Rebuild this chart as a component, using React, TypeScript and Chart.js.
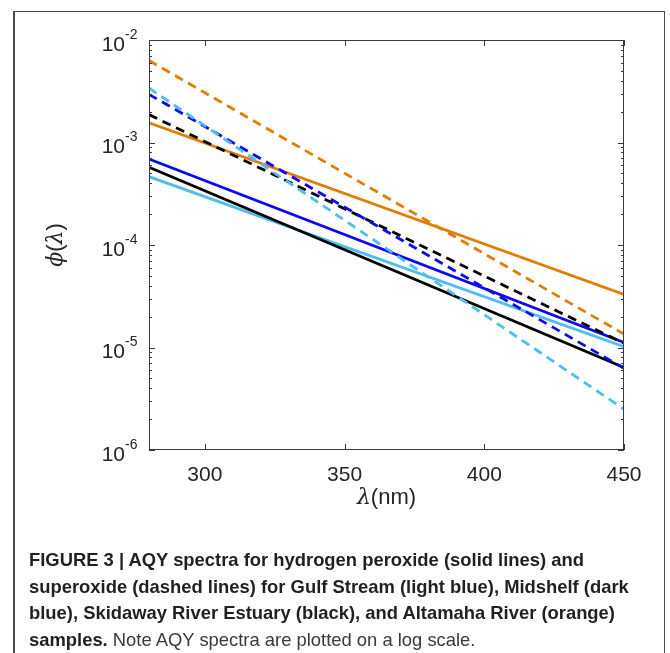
import React, { useEffect, useRef } from "react";
import { Chart, registerables } from "chart.js";
Chart.register(...registerables);

// ---- data ----
const wavelengths = [280, 450];
// hydrogen peroxide (solid)
const gulfStreamH2O2 = [4.64e-4, 1.02e-5];
const midshelfH2O2 = [6.9e-4, 1.12e-5];
const skidawayH2O2 = [5.73e-4, 6.37e-6];
const altamahaH2O2 = [1.56e-3, 3.29e-5];
// superoxide (dashed)
const gulfStreamO2 = [3.4e-3, 2.5e-6];
const midshelfO2 = [2.95e-3, 6.27e-6];
const skidawayO2 = [1.87e-3, 1.1e-5];
const altamahaO2 = [6.3e-3, 1.35e-5];

const xTicks = [300, 350, 400, 450];
const yTickExponents = [-2, -3, -4, -5, -6];

const LIGHT_BLUE = "#4DBEEE";
const DARK_BLUE = "#0B0BF2";
const BLACK = "#000000";
const ORANGE = "#E27D00";

const SANS = "'Liberation Sans', Arial, Helvetica, sans-serif";
const SERIF = "'DejaVu Serif', 'Liberation Serif', serif";
const AXIS_COLOR = "#3a3a3a";
const TEXT_COLOR = "#262626";

function pts(vals: number[]) {
  return wavelengths.map((x, i) => ({ x, y: vals[i] }));
}

function drawSegments(ctx: CanvasRenderingContext2D, segs: [string, string][], cx: number, cy: number) {
  let total = 0;
  const widths = segs.map(([t, f]) => {
    ctx.font = f;
    const w = ctx.measureText(t).width;
    total += w;
    return w;
  });
  let x = cx - total / 2;
  ctx.textAlign = "left";
  ctx.textBaseline = "middle";
  segs.forEach(([t, f], i) => {
    ctx.font = f;
    ctx.fillText(t, x, cy);
    x += widths[i];
  });
}

const axesPlugin = {
  id: "matlabAxes",
  afterDraw(chart: any) {
    const ctx: CanvasRenderingContext2D = chart.ctx;
    const { left, right, top, bottom } = chart.chartArea;
    const xs = chart.scales.x;
    const ys = chart.scales.y;
    ctx.save();
    ctx.strokeStyle = AXIS_COLOR;
    ctx.lineWidth = 1;
    ctx.strokeRect(left + 0.5, top + 0.5, right - left - 1, bottom - top - 1);

    ctx.beginPath();
    for (let e = -6; e <= -2; e++) {
      const yp = Math.round(ys.getPixelForValue(Math.pow(10, e))) + 0.5;
      ctx.moveTo(left, yp); ctx.lineTo(left + 6, yp);
      ctx.moveTo(right, yp); ctx.lineTo(right - 6, yp);
      if (e < -2) {
        for (let m = 2; m <= 9; m++) {
          const y2 = Math.round(ys.getPixelForValue(m * Math.pow(10, e))) + 0.5;
          ctx.moveTo(left, y2); ctx.lineTo(left + 3, y2);
          ctx.moveTo(right, y2); ctx.lineTo(right - 3, y2);
        }
      }
    }
    xTicks.forEach((v) => {
      const xp = Math.round(xs.getPixelForValue(v)) + 0.5;
      ctx.moveTo(xp, bottom); ctx.lineTo(xp, bottom - 6);
      ctx.moveTo(xp, top); ctx.lineTo(xp, top + 6);
    });
    ctx.stroke();

    ctx.fillStyle = TEXT_COLOR;
    ctx.font = `21px ${SANS}`;
    ctx.textAlign = "center";
    ctx.textBaseline = "middle";
    xTicks.forEach((v) => {
      ctx.fillText(String(v), xs.getPixelForValue(v), bottom + 25);
    });

    yTickExponents.forEach((e) => {
      const yp = ys.getPixelForValue(Math.pow(10, e));
      ctx.font = `21px ${SANS}`;
      ctx.textAlign = "right";
      ctx.textBaseline = "middle";
      ctx.fillText("10", left - 24, yp + 5);
      ctx.font = `14px ${SANS}`;
      ctx.textAlign = "left";
      ctx.fillText(String(e), left - 24, yp - 5);
    });

    const cx = (left + right) / 2;
    drawSegments(ctx, [["λ", `italic 22px ${SERIF}`], ["(nm)", `22px ${SANS}`]], cx, bottom + 48);
    ctx.save();
    ctx.translate(56, (top + bottom) / 2);
    ctx.rotate(-Math.PI / 2);
    drawSegments(
      ctx,
      [["ϕ", `italic 22px ${SERIF}`], ["(", `22px ${SANS}`], ["λ", `italic 22px ${SERIF}`], [")", `22px ${SANS}`]],
      0,
      0
    );
    ctx.restore();
    ctx.restore();
  },
};

export default function App() {
  const ref = useRef<HTMLCanvasElement>(null);
  useEffect(() => {
    if (!ref.current) return;
    const solid = (label: string, data: number[], color: string) => ({
      label, data: pts(data), borderColor: color, backgroundColor: color,
      borderWidth: 2.8, pointRadius: 0, fill: false, tension: 0,
    });
    const dashed = (label: string, data: number[], color: string) => ({
      ...solid(label, data, color), borderDash: [9, 6],
    });
    const chart = new Chart(ref.current, {
      type: "line",
      data: {
        datasets: [
          dashed("Altamaha O2-", altamahaO2, ORANGE),
          dashed("Gulf Stream O2-", gulfStreamO2, LIGHT_BLUE),
          dashed("Midshelf O2-", midshelfO2, DARK_BLUE),
          dashed("Skidaway O2-", skidawayO2, BLACK),
          solid("Altamaha H2O2", altamahaH2O2, ORANGE),
          solid("Midshelf H2O2", midshelfH2O2, DARK_BLUE),
          solid("Skidaway H2O2", skidawayH2O2, BLACK),
          solid("Gulf Stream H2O2", gulfStreamH2O2, LIGHT_BLUE),
        ] as any,
      },
      options: {
        animation: false,
        responsive: false,
        devicePixelRatio: 1,
        layout: { padding: { left: 149, right: 46, top: 40, bottom: 203 } },
        plugins: { legend: { display: false }, tooltip: { enabled: false } },
        scales: {
          x: { type: "linear", min: 280, max: 450, display: false },
          y: { type: "logarithmic", min: 1e-6, max: 1e-2, display: false },
        },
      },
      plugins: [axesPlugin],
    });
    return () => chart.destroy();
  }, []);

  return (
    <div style={{ position: "absolute", left: 0, top: 0, width: 670, height: 653, overflow: "hidden", background: "#fff" }}>
      <canvas ref={ref} width={670} height={653} style={{ position: "absolute", left: 0, top: 0 }} />
      <div
        style={{
          position: "absolute", left: 13, top: 11, width: 652, height: 700,
          borderLeft: "2px solid #4a4a4a", borderTop: "1.5px solid #4a4a4a", borderRight: "1.5px solid #4a4a4a",
          boxSizing: "border-box", pointerEvents: "none",
        }}
      />
      <div
        style={{
          position: "absolute", left: 29, top: 547, fontFamily: SANS, fontSize: 18.4,
          lineHeight: "26.7px", color: "#231f20", whiteSpace: "nowrap",
        }}
      >
        <b>
          FIGURE 3 | AQY spectra for hydrogen peroxide (solid lines) and
          <br />
          superoxide (dashed lines) for Gulf Stream (light blue), Midshelf (dark
          <br />
          blue), Skidaway River Estuary (black), and Altamaha River (orange)
          <br />
          samples.
        </b>{" "}
        <span style={{ color: "#3a3a3a" }}>Note AQY spectra are plotted on a log scale.</span>
      </div>
    </div>
  );
}
